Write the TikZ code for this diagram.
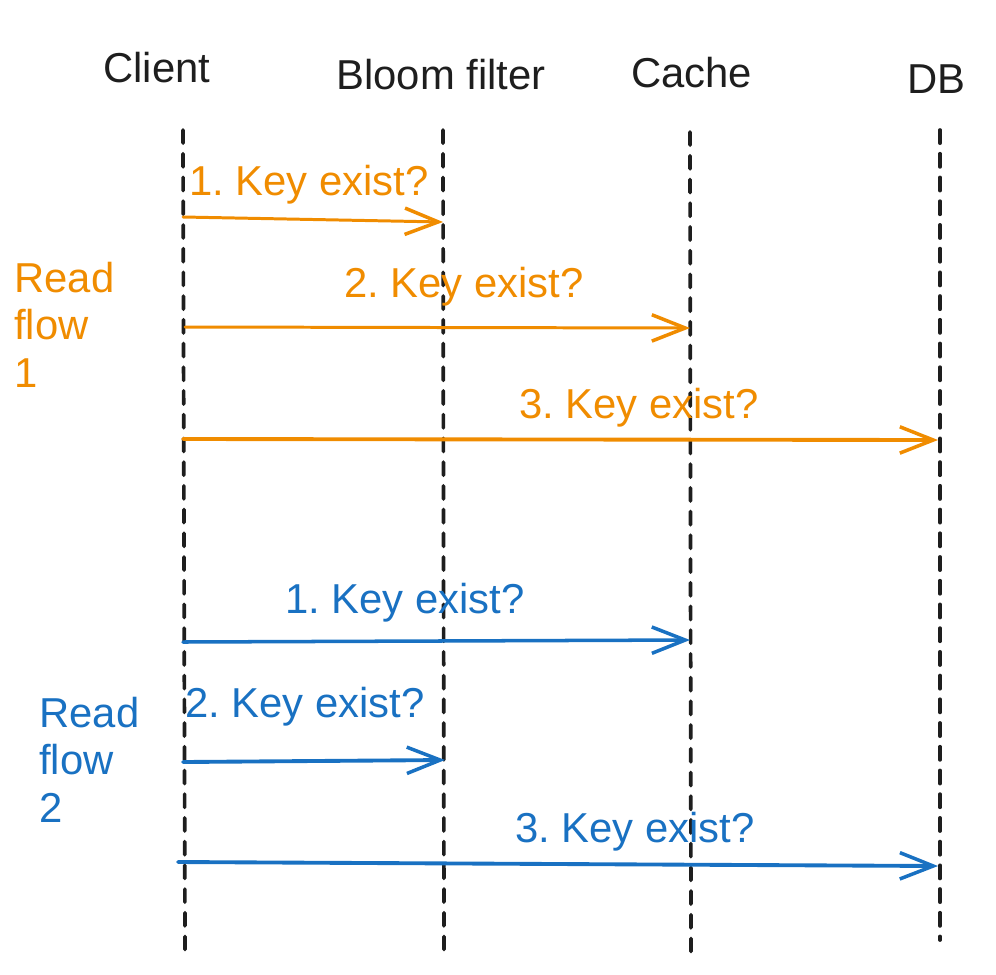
\documentclass[tikz,border=0pt]{standalone}
\usepackage{fontspec}
\setmainfont{Liberation Sans}
\usetikzlibrary{arrows.meta}
\definecolor{ink}{HTML}{1E1E1E}
\definecolor{orng}{HTML}{F08C00}
\definecolor{blu}{HTML}{1971C2}
\tikzset{
  lbl/.style={inner sep=0pt, anchor=base west, align=left, font=\fontsize{23.8}{26.9}\selectfont\frenchspacing},
  head/.style={lbl, text=ink},
  olbl/.style={lbl, text=orng},
  blbl/.style={lbl, text=blu},
  life/.style={draw=ink, line width=2.1pt, dash pattern=on 7.5pt off 6pt, line cap=round},
  arr/.style={line width=2pt, line cap=round, -{Straight Barb[length=19pt, width=15pt, line width=2pt]}},
  oarr/.style={arr, draw=orng},
  barr/.style={arr, draw=blu}
}
\begin{document}
\begin{tikzpicture}[x=0.02cm, y=-0.02cm]
\useasboundingbox (0,0) rectangle (996,974);
% headers
\node[head] (hClient) at (103,82) {Client};
\node[head] (hBloom) at (336,89) {Bloom filter};
\node[head] (hCache) at (631,87) {Cache};
\node[head] (hDB) at (907,93) {DB};
% lifelines
\coordinate (cT) at (183,130); \coordinate (cB) at (185,953);
\coordinate (bT) at (443,130); \coordinate (bB) at (444,953);
\coordinate (kT) at (690,132); \coordinate (kB) at (691,957);
\coordinate (dT) at (940,130); \coordinate (dB) at (940,940);
\draw[life] (cT) -- (cB);
\draw[life] (bT) -- (bB);
\draw[life] (kT) -- (kB);
\draw[life] (dT) -- (dB);
% read flow 1
\node[olbl] (rf1) at (14,387) {Read\\flow\\1};
\node[olbl] (o1t) at (189,195) {1. Key exist?};
\node[olbl] (o2t) at (344,297) {2. Key exist?};
\node[olbl] (o3t) at (519,418) {3. Key exist?};
\coordinate (o1s) at (183,217); \coordinate (o1e) at (443,222);
\coordinate (o2s) at (185,327); \coordinate (o2e) at (690,328);
\coordinate (o3s) at (183,439); \coordinate (o3e) at (938,440);
\draw[oarr, line width=1.7pt] (o1s) -- (o1e);
\draw[oarr, line width=1.7pt] (o2s) -- (o2e);
\draw[oarr, line width=2.2pt] (o3s) -- (o3e);
% read flow 2
\node[blbl] (rf2) at (39,822) {Read\\flow\\2};
\node[blbl] (b1t) at (285,613) {1. Key exist?};
\node[blbl] (b2t) at (185,717) {2. Key exist?};
\node[blbl] (b3t) at (515,842) {3. Key exist?};
\coordinate (b1s) at (183,642); \coordinate (b1e) at (690,640);
\coordinate (b2s) at (183,762); \coordinate (b2e) at (445,760);
\coordinate (b3s) at (178,862); \coordinate (b3e) at (938,866);
\draw[barr] (b1s) -- (b1e);
\draw[barr, line width=2.2pt] (b2s) -- (b2e);
\draw[barr, line width=2.2pt] (b3s) -- (b3e);
\end{tikzpicture}
\end{document}
